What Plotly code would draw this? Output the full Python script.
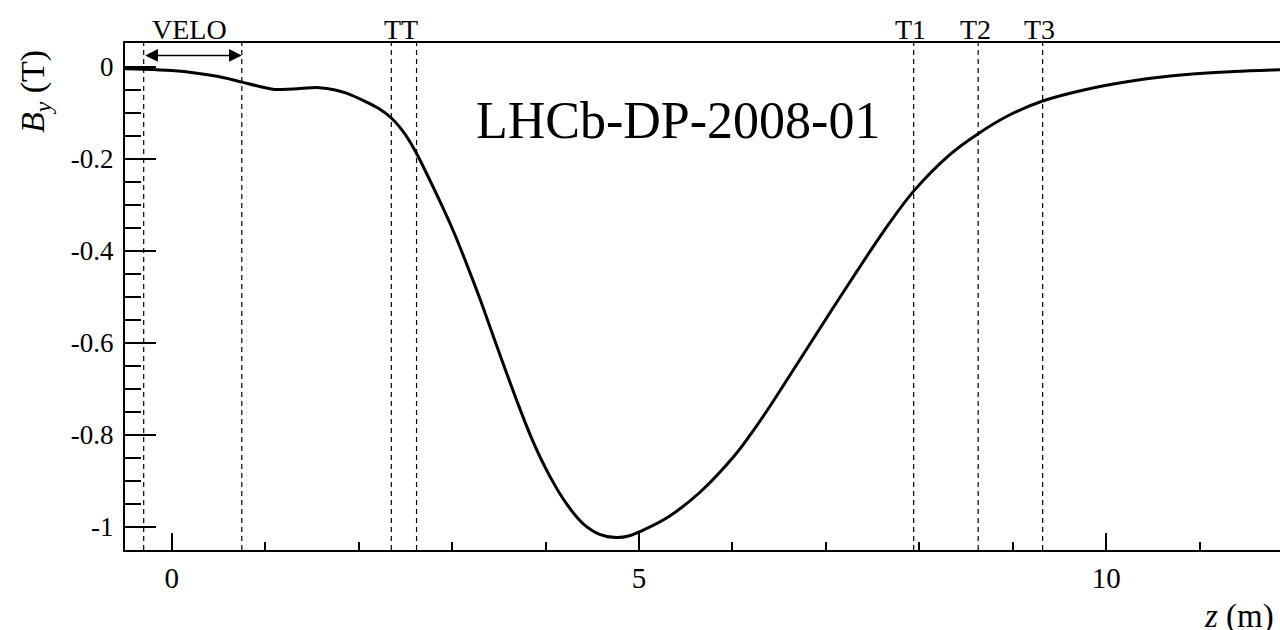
import plotly.graph_objects as go

# Field profile B_y (T) along z (m)
z_m = [-0.5, -0.3, 0.0, 0.25, 0.5, 0.75, 0.95, 1.1, 1.3, 1.58, 1.75, 1.87, 2.08, 2.22,
       2.35, 2.5, 2.62, 2.83, 3.01, 3.155, 3.30, 3.476, 3.69, 3.868, 4.047, 4.226,
       4.404, 4.58, 4.76, 4.90, 5.01, 5.30, 5.65, 6.01, 6.19, 6.40, 6.72, 7.08, 7.33,
       7.62, 7.94, 8.33, 8.63, 8.97, 9.32, 9.76, 10.29, 10.83, 11.37, 11.86, 12.0]
by_T = [-0.004, -0.005, -0.008, -0.013, -0.021, -0.033, -0.043, -0.049, -0.048, -0.045,
        -0.050, -0.057, -0.076, -0.091, -0.111, -0.147, -0.188, -0.275, -0.355, -0.428,
        -0.505, -0.605, -0.724, -0.815, -0.890, -0.950, -0.993, -1.016, -1.023, -1.019,
        -1.010, -0.980, -0.925, -0.848, -0.800, -0.738, -0.637, -0.523, -0.445, -0.357,
        -0.270, -0.190, -0.145, -0.104, -0.074, -0.050, -0.030, -0.017, -0.010,
        -0.006, -0.005]

# Detector stations (dashed lines)
det_names = ["VELO", "TT", "T1", "T2", "T3"]
det_lines = [[-0.3, 0.75], [2.35, 2.62], [7.94], [8.63], [9.32]]

y_tickvals = [0, -0.2, -0.4, -0.6, -0.8, -1.0]
y_ticktext = ["0", "-0.2", "-0.4", "-0.6", "-0.8", "-1"]
x_tickvals = [0, 5, 10]
x_ticktext = ["0", "5", "10"]

FONT = "Liberation Serif"

fig = go.Figure()
fig.add_trace(go.Scatter(x=z_m, y=by_T, mode="lines",
                         line=dict(color="black", width=3, shape="spline", smoothing=1.0),
                         hoverinfo="skip", showlegend=False))

shapes = []
annotations = []
for name, xs in zip(det_names, det_lines):
    for xv in xs:
        shapes.append(dict(type="line", xref="x", yref="paper", x0=xv, x1=xv, y0=0, y1=1,
                           line=dict(color="black", width=1.2, dash="5px,4px")))
    xc = sum(xs) / len(xs)
    annotations.append(dict(text=name, x=xc, xref="x", y=1.0276, yref="paper",
                            xanchor="center", yanchor="middle", showarrow=False,
                            xshift=-3, font=dict(family=FONT, size=28, color="black")))

# VELO double arrow
velo = det_lines[0]
annotations.append(dict(text="", x=velo[1], y=0.025, xref="x", yref="y",
                        ax=velo[0], ay=0.025, axref="x", ayref="y",
                        showarrow=True, arrowside="end+start", arrowhead=2,
                        arrowsize=1.7, arrowwidth=1.5, arrowcolor="black",
                        standoff=0, startstandoff=0))

annotations.append(dict(text="LHCb-DP-2008-01", x=0.479, y=0.848, xref="paper", yref="paper",
                        xanchor="center", yanchor="middle", showarrow=False,
                        font=dict(family=FONT, size=52, color="black")))
annotations.append(dict(text="<i>B</i><sub><i>y</i></sub> (T)", x=-0.078, y=0.905,
                        xref="paper", yref="paper", xanchor="center", yanchor="middle",
                        textangle=-90, showarrow=False,
                        font=dict(family=FONT, size=34, color="black")))
annotations.append(dict(text="<i>z</i> (m)", x=1.0, y=-0.132, xref="paper", yref="paper",
                        xanchor="right", yanchor="middle", showarrow=False,
                        borderpad=0, xshift=-5,
                        font=dict(family=FONT, size=33, color="black")))

fig.update_layout(
    width=1280, height=630,
    margin=dict(l=125, r=0, t=43, b=80),
    paper_bgcolor="white", plot_bgcolor="white",
    shapes=shapes, annotations=annotations,
    xaxis=dict(range=[-0.5, 11.86], showgrid=False, zeroline=False,
               showline=True, linecolor="black", linewidth=2, mirror=True,
               tickvals=x_tickvals, ticktext=x_ticktext,
               ticks="inside", ticklen=17, tickwidth=1.5, tickcolor="black",
               ticklabelstandoff=1,
               tickfont=dict(family=FONT, size=29, color="black"),
               minor=dict(dtick=1, tick0=0, ticks="inside", ticklen=8,
                          tickwidth=1.5, tickcolor="black", showgrid=False)),
    yaxis=dict(range=[-1.05, 0.052], showgrid=False, zeroline=False,
               showline=True, linecolor="black", linewidth=2, mirror=False,
               tickvals=y_tickvals, ticktext=y_ticktext,
               ticks="inside", ticklen=31, tickwidth=1.5, tickcolor="black",
               ticklabelstandoff=4,
               tickfont=dict(family=FONT, size=27, color="black"),
               minor=dict(dtick=0.05, tick0=0, ticks="inside", ticklen=16,
                          tickwidth=1.5, tickcolor="black", showgrid=False)),
)

fig.write_html("out.html")
